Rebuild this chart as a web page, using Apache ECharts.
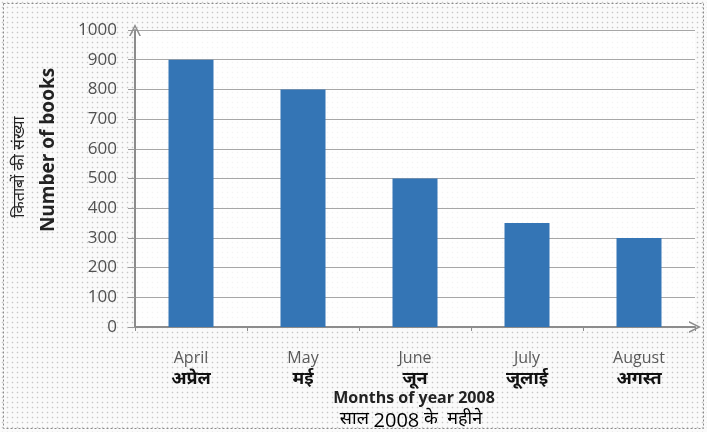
<!DOCTYPE html>
<html>
<head>
<meta charset="utf-8">
<script src="https://cdn.jsdelivr.net/npm/echarts@6/dist/echarts.min.js"></script>
<style>
html,body{margin:0;padding:0;background:#fff;}
#wrap{position:absolute;left:0;top:0;width:707px;height:432px;
 background-color:#fafafa;
 background-image:radial-gradient(circle, #c8c8c8 0.7px, rgba(255,255,255,0) 1.1px);
 background-size:5px 5px;}
#chart{width:707px;height:432px;}
</style>
</head>
<body>
<div id="wrap"><div id="chart"></div></div>
<script>
const monthsEn = ['April','May','June','July','August'];
const monthsHi = ['अप्रेल','मई','जून','जूलाई','अगस्त'];
const books = [900, 800, 500, 350, 300];
const yTitleEn = 'Number of books';
const yTitleHi = 'किताबों की संख्या';
const xTitleEn = 'Months of year 2008';
const xTitleHiParts = ['साल ', '2008', ' के  महीने'];

const hiFont = "'Noto Sans Devanagari','Lohit Devanagari','FreeSans','Noto Sans',sans-serif";
const enFont = "'Open Sans','Noto Sans',sans-serif";
const chev = 'path://M0,10 L5,0 L10,10 L8.6,10 L5,2.8 L1.4,10 Z';

const chart = echarts.init(document.getElementById('chart'), null, {renderer:'canvas'});
chart.setOption({
  backgroundColor: 'transparent',
  animation: false,
  grid: {left:135, right:12, top:30, bottom:105, show:true, backgroundColor:'rgba(255,255,255,0.8)', borderWidth:0},
  xAxis: {
    type:'category',
    data: monthsEn.map((m,i)=>m+'\n'+monthsHi[i]),
    axisLine:{show:true, lineStyle:{color:'#8c8c8c', width:2}, symbol:['none', chev], symbolSize:[12,12], symbolOffset:[0,0]},
    axisTick:{show:true, length:4, lineStyle:{color:'#8c8c8c'}},
    axisLabel:{
      margin:20, interval:0,
      formatter:(v)=>{const p=v.split('\n'); return '{en|'+p[0]+'}\n{hi|'+p[1]+'}';},
      rich:{
        en:{fontFamily:enFont, fontSize:16, color:'#595959', lineHeight:22},
        hi:{fontFamily:hiFont, fontSize:18, color:'#111', fontWeight:'bold', lineHeight:24}
      }
    }
  },
  yAxis: {
    type:'value', min:0, max:1000, interval:100,
    axisLine:{show:true, lineStyle:{color:'#8c8c8c', width:2}, symbol:['none', chev], symbolSize:[12,12], symbolOffset:[0,0]},
    axisTick:{show:true, length:7, lineStyle:{color:'#999'}},
    axisLabel:{margin:18, fontFamily:enFont, fontSize:17, color:'#505050', formatter:(v)=>String(v)},
    splitLine:{show:true, lineStyle:{color:'#a6a6a6', width:1}}
  },
  series: [{
    type:'bar', data: books, barWidth:45,
    itemStyle:{color:'#3475b5'}
  }],
  graphic: [
    {type:'rect', shape:{x:3.5, y:3.5, width:700, height:425}, style:{fill:null, stroke:'#8a8a8a', lineWidth:1, lineDash:[2,2]}, z:-1},
    {type:'text', x:49, y:150, rotation:Math.PI/2, style:{text:yTitleEn, font:"bold 19px "+enFont, fill:'#222', align:'center', verticalAlign:'middle'}},
    {type:'text', x:21, y:167, rotation:Math.PI/2, style:{text:yTitleHi, font:"16px "+hiFont, fill:'#222', align:'center', verticalAlign:'middle'}},
    {type:'text', x:414, y:398, style:{text:xTitleEn, font:"bold 16px "+enFont, fill:'#222', align:'center', verticalAlign:'middle'}},
    {type:'text', x:411, y:421, style:{
      text:'{hi|'+xTitleHiParts[0]+'}{num|'+xTitleHiParts[1]+'}{hi|'+xTitleHiParts[2]+'}',
      align:'center', verticalAlign:'middle',
      rich:{
        hi:{fontFamily:hiFont, fontSize:18, color:'#111'},
        num:{fontFamily:enFont, fontSize:20, color:'#111'}
      }}}
  ]
});
</script>
</body>
</html>
